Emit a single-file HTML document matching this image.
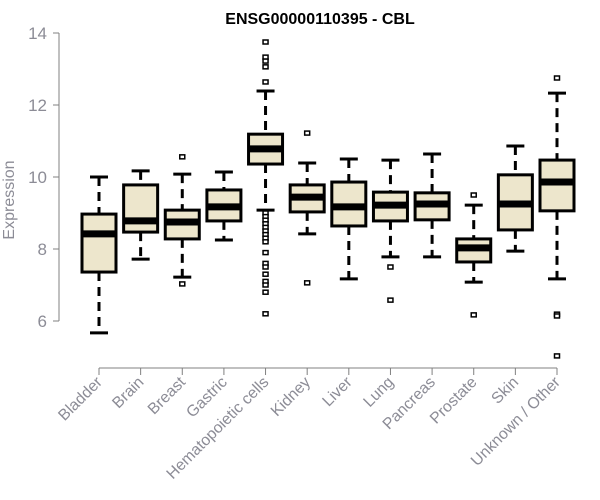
<!DOCTYPE html>
<html><head><meta charset="utf-8"><style>
body{margin:0;background:#fff}
svg{display:block;font-family:"Liberation Sans",Arial,sans-serif}
</style></head><body>
<svg id="chart" width="600" height="500">
<text x="320" y="24" text-anchor="middle" font-weight="bold" font-size="16" fill="#000">ENSG00000110395 - CBL</text>
<text transform="translate(14,200) rotate(-90)" text-anchor="middle" font-size="16" fill="#8c8c96">Expression</text>
<g id="axes"></g><g id="marks"></g>
</svg>
<script>
const categories=["Bladder","Brain","Breast","Gastric","Hematopoietic cells","Kidney","Liver","Lung","Pancreas","Prostate","Skin","Unknown / Other"];
const lowWhisker=[5.67,7.72,7.22,8.25,9.08,8.42,7.17,7.78,7.78,7.08,7.94,7.17];
const q1=[7.36,8.47,8.28,8.78,10.36,9.03,8.64,8.78,8.81,7.64,8.53,9.06];
const median=[8.42,8.78,8.75,9.17,10.78,9.44,9.17,9.22,9.25,8.03,9.25,9.86];
const q3=[8.97,9.78,9.08,9.64,11.19,9.78,9.86,9.58,9.56,8.28,10.06,10.47];
const highWhisker=[10.0,10.17,10.08,10.14,12.39,10.39,10.5,10.47,10.64,9.22,10.86,12.33];
const outliers=[[],[],[10.56,7.03],[],[13.75,13.33,13.22,13.06,12.64,9.0,8.9,8.8,8.7,8.6,8.5,8.4,8.3,8.2,7.9,7.6,7.5,7.3,7.1,7.0,6.8,6.2],[11.22,7.06],[],[7.5,6.58],[],[9.5,6.17],[],[12.75,6.19,6.14,5.03]];
const yTicks=[6,8,10,12,14];

const NS="http://www.w3.org/2000/svg";
const y=v=>33+(14-v)*36;
const x=i=>99+i*(557-99)/(categories.length-1);
function mk(tag,attrs,parent){const e=document.createElementNS(NS,tag);for(const k in attrs)e.setAttribute(k,attrs[k]);parent.appendChild(e);return e;}
const axes=document.getElementById('axes'),marks=document.getElementById('marks');
const ax="#808080";
let yl=mk('line',{x1:59,x2:59,y1:y(14),y2:y(6),stroke:ax},axes);


yTicks.forEach(t=>{
 let tk=mk('line',{x1:53,x2:59,y1:y(t),y2:y(t),stroke:ax},axes);
 
 
 let tl=mk('text',{x:47,y:y(t)+6,'text-anchor':'end','font-size':17,fill:'#8c8c96'},axes);
 tl.textContent=t;
 
 
});
let xl=mk('line',{x1:x(0),x2:x(categories.length-1),y1:368,y2:368,stroke:ax},axes);


categories.forEach((c,i)=>{
 const cx=x(i),w=17;
 let tk=mk('line',{x1:cx,x2:cx,y1:368,y2:375,stroke:ax},axes);
 
 
 let tl=mk('text',{transform:`translate(${cx+4},383) rotate(-45)`,'text-anchor':'end','font-size':15.8,fill:'#8c8c96'},axes);
 tl.textContent=c;
 
 
 const g=mk('g',{},marks);
 
 
 mk('line',{x1:cx,x2:cx,y1:y(highWhisker[i]),y2:y(q3[i]),stroke:'#000','stroke-width':3,'stroke-dasharray':'9,6'},g);
 mk('line',{x1:cx,x2:cx,y1:y(q1[i]),y2:y(lowWhisker[i]),stroke:'#000','stroke-width':3,'stroke-dasharray':'9,6'},g);
 mk('line',{x1:cx-9,x2:cx+9,y1:y(highWhisker[i]),y2:y(highWhisker[i]),stroke:'#000','stroke-width':3},g);
 mk('line',{x1:cx-9,x2:cx+9,y1:y(lowWhisker[i]),y2:y(lowWhisker[i]),stroke:'#000','stroke-width':3},g);
 mk('rect',{x:cx-w,y:y(q3[i]),width:2*w,height:y(q1[i])-y(q3[i]),fill:'#ede6cc',stroke:'#000','stroke-width':3},g);
 mk('line',{x1:cx-w,x2:cx+w,y1:y(median[i]),y2:y(median[i]),stroke:'#000','stroke-width':7},g);
 outliers[i].forEach(o=>{
  let p=mk('rect',{x:cx-2.5,y:y(o)-2,width:5,height:4,fill:'#fff',stroke:'#000','stroke-width':1.5},g);
  
  
 });
});
</script>
</body></html>
